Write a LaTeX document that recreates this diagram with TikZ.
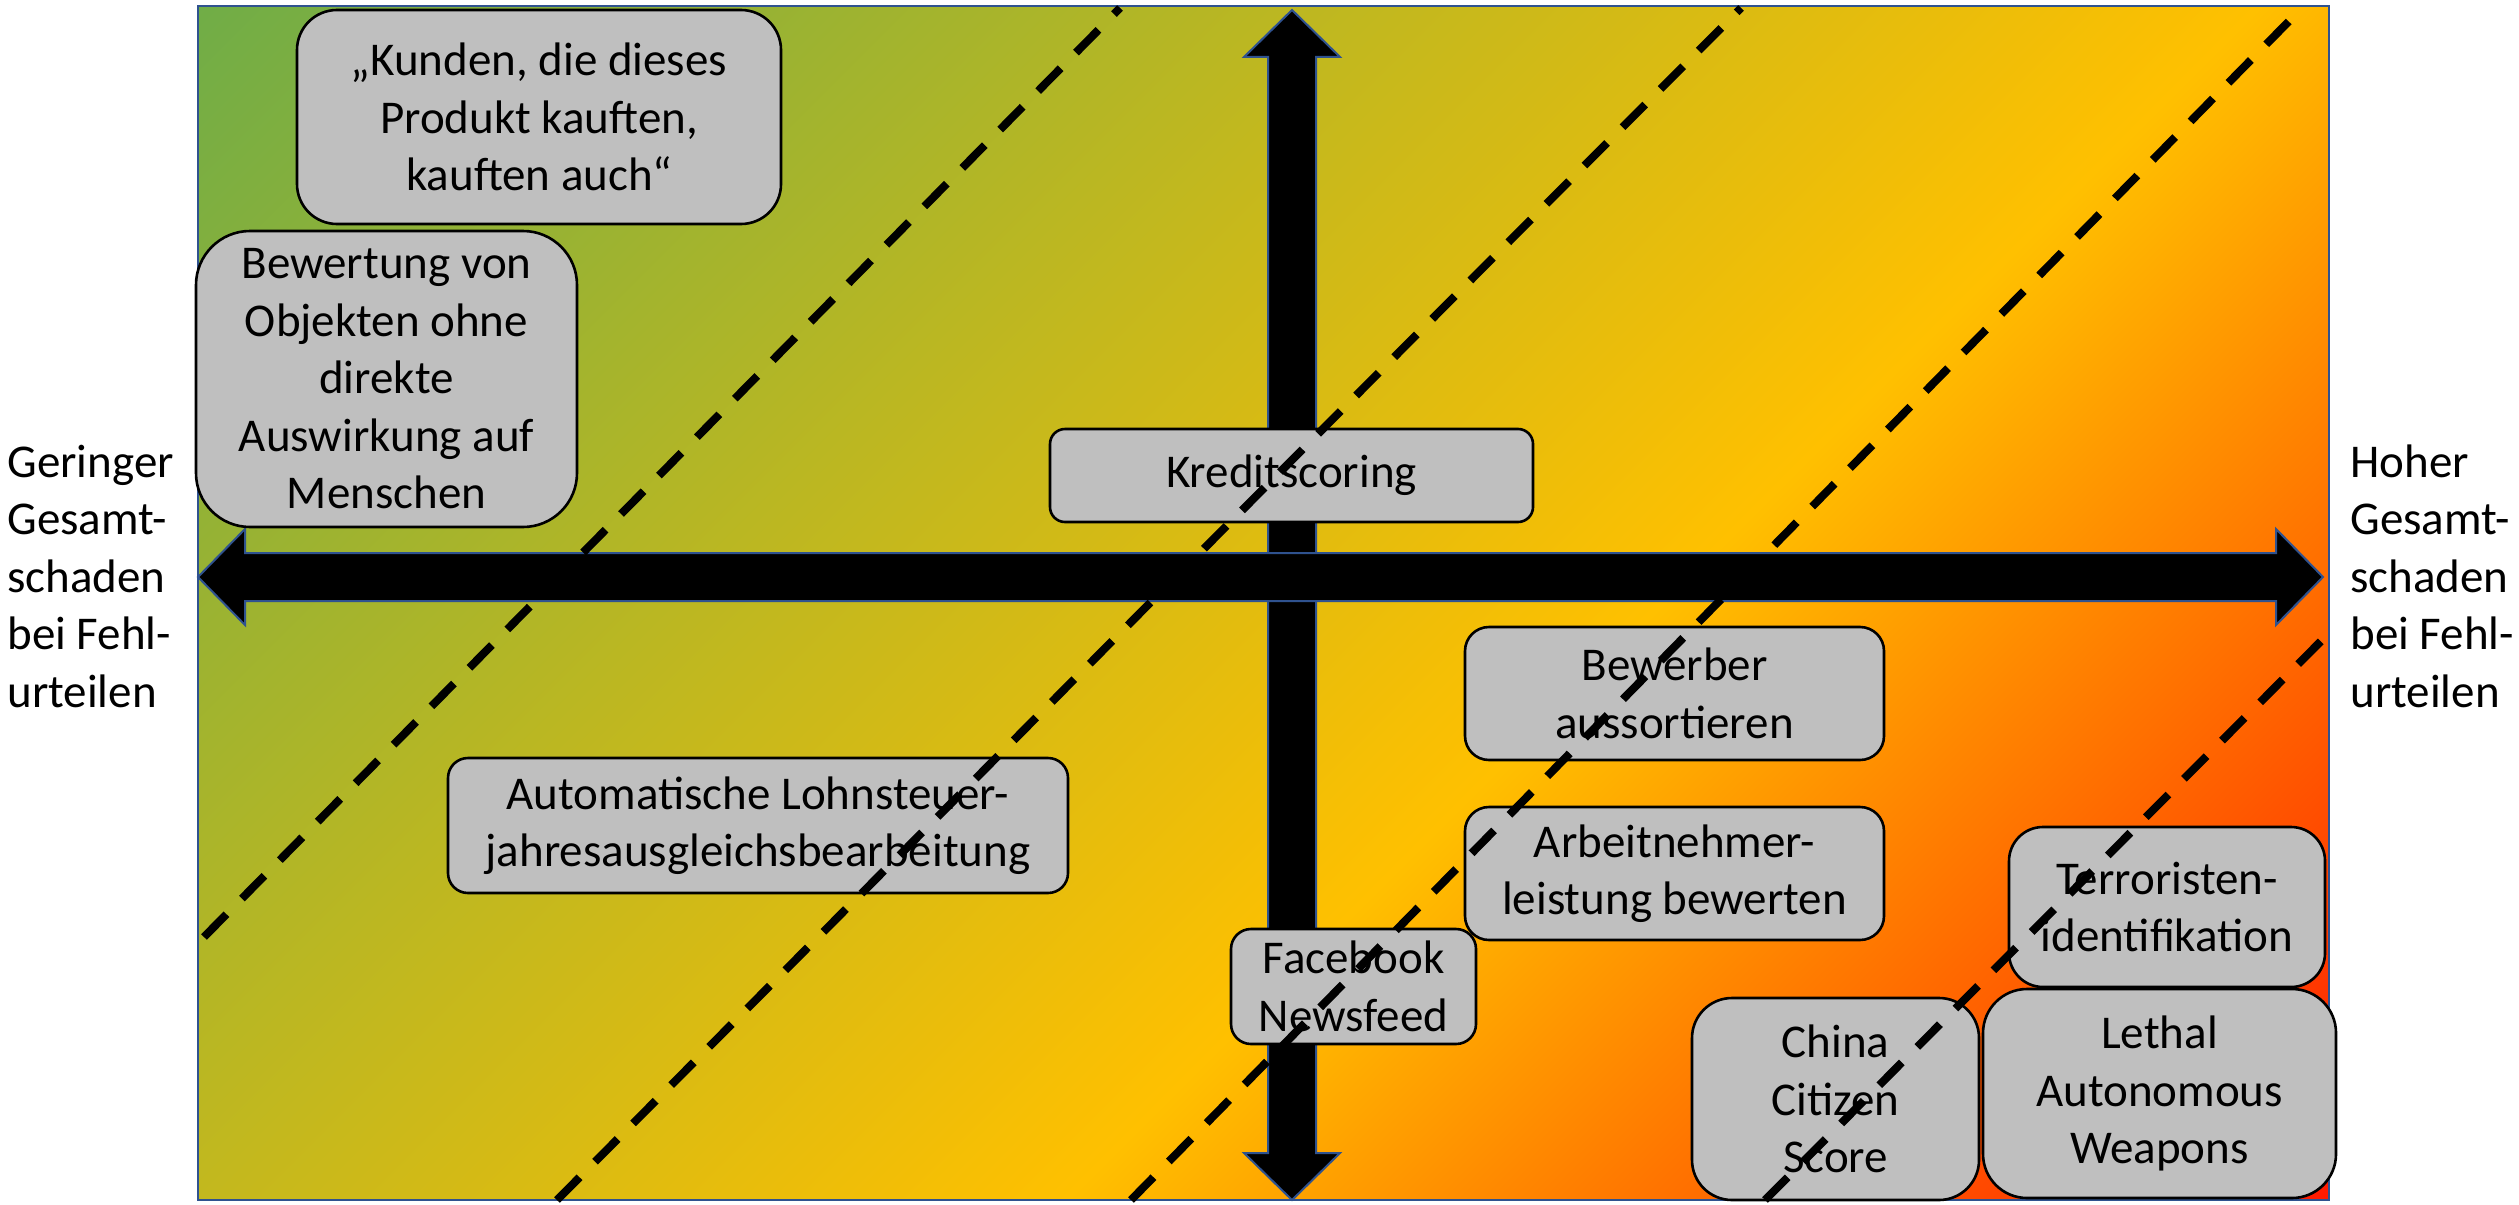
\documentclass[tikz,border=0pt]{standalone}
\usepackage{fontspec}
\setmainfont{Carlito}
\definecolor{boxgray}{RGB}{191,191,191}
\definecolor{arrowblue}{RGB}{47,82,143}
\pgfdeclarehorizontalshading{bgshade}{100bp}{rgb(0bp)=(0.439,0.678,0.278); rgb(25bp)=(0.439,0.678,0.278); rgb(56bp)=(1,0.753,0); rgb(75bp)=(1,0.1,0); rgb(100bp)=(1,0.1,0)}
\begin{document}
\begin{tikzpicture}[x=0.5pt,y=-0.5pt,
  txt/.style={font=\fontsize{23.5pt}{28.75pt}\selectfont},
  box/.style={txt, draw=black, line width=1.3pt, fill=boxgray, align=center, inner sep=0pt},
  lbl/.style={txt, align=left, inner sep=0pt},
  dashline/.style={line width=4pt, dash pattern=on 16pt off 11pt},
  arrowshape/.style={fill=black, draw=arrowblue, line width=1pt}]
\useasboundingbox (0,0) rectangle (2519,1204);
% background gradient
\begin{scope}
  \clip (198,6) rectangle (2329,1200);
  \begin{scope}[transform canvas={rotate around={-45:(1263.5,603)}}]
    \shade[shading=bgshade] (87.5,-573) rectangle (2439.5,1779);
  \end{scope}
\end{scope}
\draw[draw=arrowblue, line width=1pt] (198,6) rectangle (2329,1200);
% vertical double arrow
\draw[arrowshape] (1292,10) -- (1340,57) -- (1316,57) -- (1316,1153) -- (1340,1153) -- (1292,1200) -- (1244,1153) -- (1268,1153) -- (1268,57) -- (1244,57) -- cycle;
% horizontal double arrow
\draw[arrowshape] (198,577) -- (245,529) -- (245,553) -- (2276,553) -- (2276,529) -- (2323,577) -- (2276,625) -- (2276,601) -- (245,601) -- (245,625) -- cycle;
% boxes
\node[box, minimum width=242pt, minimum height=107pt, rounded corners=20pt] (kunden) at (539,117) {„Kunden, die dieses\\Produkt kauften,\\kauften auch“};
\node[box, minimum width=190.5pt, minimum height=148pt, rounded corners=27pt] (bewertung) at (386.5,379) {Bewertung von\\Objekten ohne\\direkte\\Auswirkung auf\\Menschen};
\node[box, minimum width=241.5pt, minimum height=46.5pt, rounded corners=7.5pt] (kredit) at (1291.5,475.5) {Kreditscoring};
\node[box, minimum width=310pt, minimum height=67.5pt, rounded corners=10pt] (lohn) at (758,825.5) {Automatische Lohnsteuer-\\jahresausgleichsbearbeitung};
\node[box, minimum width=209.5pt, minimum height=66.5pt, rounded corners=12pt] (bewerber) at (1674.5,693.5) {Bewerber\\aussortieren};
\node[box, minimum width=209.5pt, minimum height=66.5pt, rounded corners=12pt] (arbeit) at (1674.5,873.5) {Arbeitnehmer-\\leistung bewerten};
\node[box, minimum width=122.5pt, minimum height=57.5pt, rounded corners=10pt] (facebook) at (1353.5,986.5) {Facebook\\Newsfeed};
\node[box, minimum width=143.5pt, minimum height=101pt, rounded corners=20pt] (china) at (1835.5,1099) {China\\Citizen\\Score};
\node[box, minimum width=158pt, minimum height=80pt, rounded corners=17pt] (terror) at (2167,907) {Terroristen-\\identifikation};
\node[box, minimum width=176.5pt, minimum height=104.5pt, rounded corners=22pt] (lethal) at (2159.5,1093.5) {Lethal\\Autonomous\\Weapons};
% dashed lines
\coordinate (l1a) at (204,937);  \coordinate (l1b) at (1120,8);
\coordinate (l2a) at (557,1200); \coordinate (l2b) at (1741,8);
\coordinate (l3a) at (1131,1200); \coordinate (l3b) at (2296,14);
\coordinate (l4a) at (1765,1200); \coordinate (l4b) at (2334,628);
\draw[dashline] (l1a) -- (l1b);
\draw[dashline] (l2a) -- (l2b);
\draw[dashline] (l3a) -- (l3b);
\draw[dashline] (l4a) -- (l4b);
% outer labels
\node[lbl, anchor=west] (links) at (7,576) {Geringer\\Gesamt-\\schaden\\bei Fehl-\\urteilen};
\node[lbl, anchor=west] (rechts) at (2350,576) {Hoher\\Gesamt-\\schaden\\bei Fehl-\\urteilen};
\end{tikzpicture}
\end{document}
